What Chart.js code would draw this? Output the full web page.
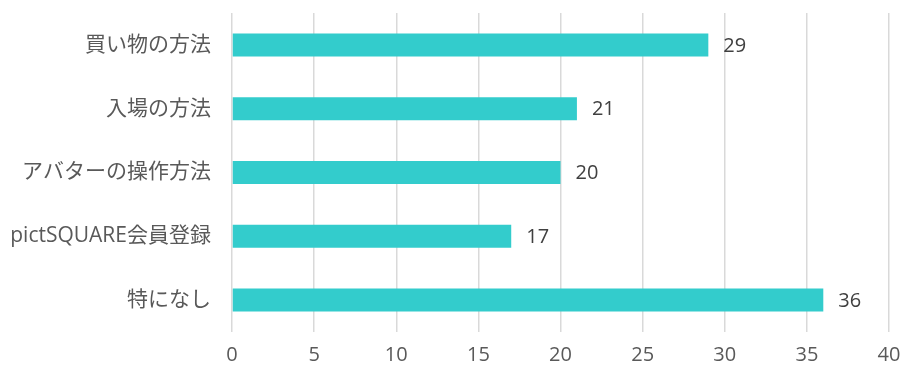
<!DOCTYPE html>
<html>
<head>
<meta charset="utf-8">
<script src="https://cdn.jsdelivr.net/npm/chart.js@4"></script>
<style>
html,body{margin:0;padding:0;background:#fff;}
#wrap{width:923px;height:382px;}
</style>
</head>
<body>
<div id="wrap"><canvas id="c" width="923" height="382"></canvas></div>
<script>
const categories = ["買い物の方法","入場の方法","アバターの操作方法","pictSQUARE会員登録","特になし"];
const values = [29, 21, 20, 17, 36];
const xTicks = [0,5,10,15,20,25,30,35,40];

const FONT = "'Open Sans','Noto Sans CJK JP',sans-serif";

const labelPlugin = {
  id: 'valueLabels',
  afterDatasetsDraw(chart) {
    const ctx = chart.ctx;
    const meta = chart.getDatasetMeta(0);
    ctx.save();
    ctx.font = "20px " + FONT;
    ctx.fillStyle = "#404040";
    ctx.textAlign = "left";
    ctx.textBaseline = "middle";
    meta.data.forEach((bar, i) => {
      ctx.fillText(String(values[i]), bar.x + 15, bar.y + 1);
    });
    ctx.restore();
  }
};

new Chart(document.getElementById('c'), {
  type: 'bar',
  data: {
    labels: categories,
    datasets: [{
      data: values,
      backgroundColor: '#33CCCC',
      borderWidth: 0,
      barPercentage: 0.72,
      categoryPercentage: 0.5
    }]
  },
  options: {
    indexAxis: 'y',
    responsive: false,
    animation: false,
    layout: { padding: { left: 0, right: 34, top: 13, bottom: 0 } },
    plugins: { legend: { display: false }, tooltip: { enabled: false } },
    scales: {
      x: {
        min: 0, max: 40,
        afterBuildTicks(scale) { scale.ticks = xTicks.map(v => ({ value: v })); },
        grid: { color: '#d9d9d9', lineWidth: 1.5, drawTicks: false },
        border: { display: false },
        ticks: { color: '#595959', font: { size: 20, family: FONT }, padding: 11 },
        afterFit(scale) { scale.height = 50; scale.paddingLeft = 0; scale.paddingRight = 0; }
      },
      y: {
        grid: { display: false, drawTicks: false },
        border: { display: false },
        ticks: { color: '#595959', font: { size: 21, family: FONT }, padding: 21 },
        afterFit(scale) { scale.width = 232; scale.paddingTop = 0; scale.paddingBottom = 0; }
      }
    }
  },
  plugins: [labelPlugin]
});
</script>
</body>
</html>
